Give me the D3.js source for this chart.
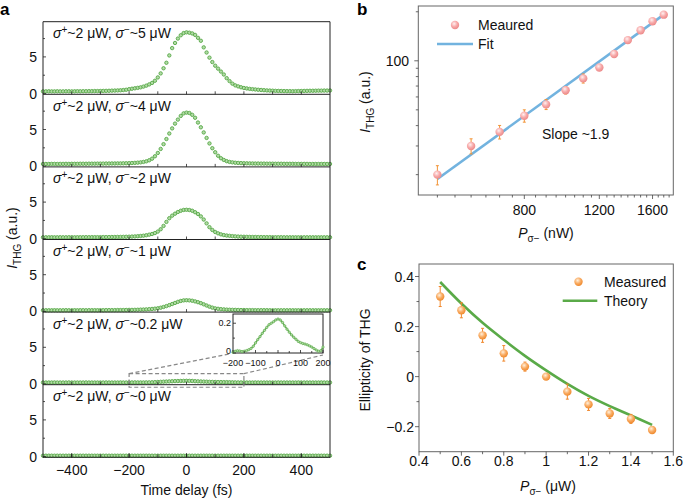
<!DOCTYPE html>
<html><head><meta charset="utf-8">
<script src="https://cdn.jsdelivr.net/npm/d3@7"></script>
<style>body{margin:0;background:#fff}svg{display:block;font-family:"Liberation Sans",Arial,Helvetica,sans-serif}</style>
</head><body><svg id="chart" width="685" height="500"></svg>
<script>
// ---------- Panel a data ----------
const delays = d3.range(-500, 501, 10);
const sigmaMinusLabels = ["5", "4", "2", "1", "0.2", "0"];
const thg5 = [0.3,0.3,0.31,0.3,0.3,0.31,0.3,0.3,0.31,0.31,0.3,0.31,0.32,0.31,0.32,0.32,0.33,0.33,0.34,0.34,
  0.35,0.36,0.37,0.38,0.4,0.41,0.43,0.45,0.48,0.52,
  0.6,0.66,0.72,0.78,0.85,0.95,1.08,1.25,1.45,1.75,
  2.2,2.75,3.45,4.2,5.2,6.2,6.9,7.5,7.95,8.25,
  8.35,
  8.3,8.2,8.0,7.6,7.2,6.3,5.6,4.9,4.3,3.8,
  3.4,3.0,2.6,2.1,1.7,1.35,1.12,0.98,0.86,0.76,
  0.7,0.64,0.6,0.56,0.52,0.49,0.46,0.43,0.41,0.39,
  0.37,0.36,0.35,0.34,0.33,0.33,0.32,0.33,0.34,0.35,
  0.36,0.37,0.38,0.38,0.39,0.4,0.4,0.41,0.41,0.42];
const thg4 = [0.3,0.3,0.3,0.31,0.31,0.3,0.31,0.31,0.32,0.31,0.32,0.32,0.32,0.33,0.33,0.33,0.34,0.34,0.34,0.35,
  0.35,0.35,0.36,0.36,0.37,0.37,0.38,0.38,0.39,0.4,
  0.41,0.43,0.45,0.48,0.52,0.58,0.66,0.8,1.02,1.35,
  1.8,2.35,3.0,3.7,4.45,5.15,5.8,6.35,6.85,7.2,
  7.3,
  7.25,7.0,6.6,5.95,5.3,4.6,3.85,3.1,2.45,1.9,
  1.42,1.08,0.85,0.68,0.58,0.52,0.47,0.44,0.42,0.4,
  0.39,0.38,0.37,0.36,0.36,0.35,0.35,0.34,0.34,0.34,
  0.33,0.33,0.33,0.32,0.32,0.32,0.32,0.31,0.31,0.31,
  0.31,0.31,0.3,0.3,0.3,0.3,0.3,0.3,0.3,0.3];
const thg2 = [0.2,0.2,0.2,0.21,0.2,0.2,0.21,0.2,0.2,0.21,0.21,0.2,0.21,0.21,0.21,0.22,0.21,0.22,0.22,0.22,
  0.22,0.23,0.23,0.23,0.24,0.24,0.25,0.25,0.26,0.27,
  0.28,0.3,0.32,0.35,0.38,0.42,0.48,0.56,0.65,0.78,
  0.98,1.3,1.75,2.3,2.8,3.15,3.42,3.65,3.82,3.93,
  3.95,
  3.92,3.82,3.62,3.38,3.05,2.62,2.1,1.58,1.2,0.92,
  0.74,0.6,0.5,0.44,0.4,0.36,0.33,0.3,0.28,0.27,
  0.26,0.25,0.24,0.24,0.23,0.23,0.22,0.22,0.22,0.21,
  0.21,0.21,0.21,0.2,0.2,0.2,0.2,0.2,0.2,0.2,
  0.2,0.2,0.2,0.2,0.2,0.2,0.2,0.2,0.2,0.2];
const thg1 = [0.15,0.15,0.15,0.15,0.16,0.15,0.15,0.15,0.16,0.15,0.15,0.16,0.15,0.16,0.16,0.15,0.16,0.16,0.16,0.16,
  0.16,0.16,0.17,0.17,0.17,0.17,0.18,0.18,0.18,0.19,
  0.2,0.2,0.21,0.22,0.24,0.25,0.27,0.3,0.33,0.37,
  0.42,0.5,0.6,0.72,0.85,1.0,1.15,1.3,1.42,1.5,
  1.52,
  1.5,1.45,1.36,1.25,1.12,0.96,0.8,0.64,0.51,0.41,
  0.35,0.3,0.27,0.24,0.22,0.21,0.2,0.19,0.18,0.18,
  0.17,0.17,0.17,0.16,0.16,0.16,0.16,0.16,0.15,0.15,
  0.15,0.15,0.15,0.15,0.15,0.15,0.15,0.15,0.15,0.15,
  0.15,0.15,0.15,0.15,0.15,0.15,0.15,0.15,0.15,0.15];
const thg02 = [0.2,0.2,0.2,0.2,0.21,0.2,0.2,0.2,0.2,0.21,0.2,0.2,0.2,0.2,0.2,0.21,0.2,0.2,0.2,0.2,
  0.2,0.2,0.21,0.2,0.2,0.2,0.2,0.21,0.2,0.2,
  0.21,0.21,0.22,0.21,0.21,0.21,0.22,0.22,0.23,0.25,
  0.27,0.29,0.31,0.33,0.35,0.37,0.39,0.4,0.41,0.42,
  0.43,
  0.42,0.41,0.38,0.36,0.34,0.32,0.31,0.29,0.28,0.27,
  0.26,0.26,0.25,0.25,0.24,0.23,0.22,0.21,0.21,0.22,
  0.2,0.2,0.2,0.21,0.2,0.2,0.2,0.2,0.2,0.2,
  0.2,0.21,0.2,0.2,0.2,0.2,0.2,0.2,0.21,0.2,
  0.2,0.2,0.2,0.2,0.2,0.2,0.21,0.2,0.2,0.2];
const thg0 = [0.12,0.12,0.12,0.12,0.12,0.12,0.12,0.12,0.12,0.12,0.12,0.12,0.12,0.12,0.12,0.12,0.12,0.12,0.12,0.12,
  0.12,0.12,0.12,0.12,0.12,0.12,0.12,0.12,0.12,0.12,
  0.12,0.12,0.12,0.12,0.12,0.12,0.12,0.12,0.12,0.12,
  0.12,0.12,0.12,0.12,0.12,0.12,0.12,0.12,0.12,0.12,
  0.12,
  0.12,0.12,0.12,0.12,0.12,0.12,0.12,0.12,0.12,0.12,
  0.12,0.12,0.12,0.12,0.12,0.12,0.12,0.12,0.12,0.12,
  0.12,0.12,0.12,0.12,0.12,0.12,0.12,0.12,0.12,0.12,
  0.12,0.12,0.12,0.12,0.12,0.12,0.12,0.12,0.12,0.12,
  0.12,0.12,0.12,0.12,0.12,0.12,0.12,0.12,0.12,0.12];
const insetDelays = d3.range(-200, 201, 10);
const insetValues = [0.005,0.012,0.016,0.014,0.01,0.012,0.016,0.022,0.03,0.045,0.068,0.09,0.11,0.132,0.152,0.172,0.19,0.2,0.21,0.222,
  0.228,0.222,0.205,0.182,0.16,0.14,0.122,0.106,0.092,0.078,0.07,0.064,0.06,0.055,0.048,0.04,0.03,0.02,0.012,0.015,0.04];
const aXTicks = [-400, -200, 0, 200, 400];
const aYTicks = [0, 5];

// ---------- Panel b data ----------
const bPower = [500,600,700,800,900,1000,1100,1200,1300,1400,1500,1600,1700];
const bIntensity = [20,30,36.6,46,54,66,78,91,110,134,154,175,192];
const bError = [2.7,3.2,3.5,4,3.8,3.5,5,3.6,4,4,4,4,3];
const fitPower = [500,1700];
const fitIntensity = [18.8,192];
const bXTicks = [800,1200,1600];
const bYTicks = [100];

// ---------- Panel c data ----------
const cPower = [0.5,0.6,0.7,0.8,0.9,1.0,1.1,1.2,1.3,1.4,1.5];
const cEllipticity = [0.32,0.265,0.165,0.093,0.04,0,-0.06,-0.111,-0.147,-0.169,-0.213];
const cError = [0.04,0.03,0.028,0.031,0.018,0.01,0.03,0.024,0.02,0.018,0.008];
const theoryPower = [0.5,0.6,0.7,0.8,0.9,1.0,1.1,1.2,1.3,1.4,1.5];
const theoryEllipticity = [0.378,0.292,0.215,0.147,0.083,0.025,-0.029,-0.077,-0.118,-0.155,-0.193];
const cXTicks = [0.4,0.6,0.8,1,1.2,1.4,1.6];
const cYTicks = [0.4,0.2,0,-0.2];

// ---------- drawing ----------
const svg = d3.select("#chart");
const FONT = 14;
const fmt = v => (v < 0 ? "\u2212" : "") + Math.abs(v);

const defs = svg.append("defs");
function sphere(id, c0, c1, c2) {
  const g = defs.append("radialGradient").attr("id", id).attr("cx","40%").attr("cy","35%").attr("r","65%");
  g.append("stop").attr("offset","0%").attr("stop-color",c0);
  g.append("stop").attr("offset","55%").attr("stop-color",c1);
  g.append("stop").attr("offset","100%").attr("stop-color",c2);
}
sphere("sb", "#fff0f0", "#f7a9a9", "#ec8a8a");
sphere("sc", "#fff0dc", "#f9ab62", "#ef8a2e");

function rich(g, x, y, parts, opt = {}) {
  const t = g.append("text").attr("x", x).attr("y", y).attr("font-size", FONT).attr("fill", "#111");
  if (opt.anchor) t.attr("text-anchor", opt.anchor);
  if (opt.rotate) t.attr("transform", `rotate(-90,${x},${y})`);
  parts.forEach(p => {
    const s = t.append("tspan").text(p.t);
    if (p.i) s.attr("font-style", "italic");
    if (p.dy) s.attr("dy", p.dy);
    if (p.fs) s.attr("font-size", p.fs);
  });
  return t;
}
function line(g, x1, y1, x2, y2, col = "#222", w = 1) {
  return g.append("line").attr("x1", x1).attr("y1", y1).attr("x2", x2).attr("y2", y2)
    .attr("stroke", col).attr("stroke-width", w);
}

// Panel a
const A = {left: 43, right: 330, top: 21.7, bottom: 457.3};
const ax = d3.scaleLinear().domain([-500, 500]).range([A.left, A.right]);
const series = [thg5, thg4, thg2, thg1, thg02, thg0];
const ph = (A.bottom - A.top) / series.length;
const ga = svg.append("g");
const panelScales = [];
series.forEach((s, k) => {
  const top = A.top + k * ph, bot = top + ph;
  const y = d3.scaleLinear().domain([-0.1, 9.8]).range([bot, top]);
  panelScales.push(y);
  const g = ga.append("g");
  g.selectAll("circle").data(delays).join("circle")
    .attr("cx", d => ax(d)).attr("cy", (d, i) => y(s[i])).attr("r", 1.7)
    .attr("fill", "#b2dba6").attr("stroke", "#57a847").attr("stroke-width", 0.9);
  line(g, A.left, bot, A.right, bot, "#222", 1);
  d3.range(-400, 401, 100).forEach(v => line(g, ax(v), bot, ax(v), bot - 3, "#222", 0.8));
  aYTicks.forEach(v => {
    line(g, A.left, y(v), A.left + 3, y(v), "#222", 0.8);
    g.append("text").attr("x", 37).attr("y", y(v) + 5).attr("text-anchor", "end")
      .attr("font-size", FONT).attr("fill", "#111").text(v);
  });
  [2.5, 7.5].forEach(v => line(g, A.left, y(v), A.left + 2, y(v), "#222", 0.8));
  rich(g, 53, top + 16.5, [
    {t: "\u03c3", i: true}, {t: "+", dy: -5, fs: 10}, {t: "~2 \u03bcW, ", dy: 5},
    {t: "\u03c3", i: true}, {t: "\u2212", dy: -5, fs: 10}, {t: "~" + sigmaMinusLabels[k] + " \u03bcW", dy: 5}
  ]);
});
line(ga, A.left, A.top, A.right, A.top, "#222", 1);
line(ga, A.left, A.top, A.left, A.bottom, "#222", 1);
line(ga, A.right, A.top, A.right, A.bottom, "#222", 1);
aXTicks.forEach(v => {
  line(ga, ax(v), A.bottom, ax(v), A.bottom - 4, "#222", 1);
  ga.append("text").attr("x", ax(v)).attr("y", 475).attr("text-anchor", "middle")
    .attr("font-size", FONT).attr("fill", "#111").text(fmt(v));
});
ga.append("text").attr("x", ax(0)).attr("y", 495).attr("text-anchor", "middle")
  .attr("font-size", FONT).attr("fill", "#111").text("Time delay (fs)");
rich(ga, 17, 238, [{t: "I", i: true}, {t: "THG", dy: 4, fs: 10}, {t: " (a.u.)", dy: -4}], {anchor: "middle", rotate: true});
ga.append("text").attr("x", 0).attr("y", 15).attr("font-size", 17).attr("font-weight", "bold").text("a");

// zoom box + inset (panel with sigma- ~0.2)
const y5 = panelScales[4];
const dash = "4,2.5";
ga.append("rect").attr("x", ax(-200)).attr("y", y5(1.4)).attr("width", ax(200) - ax(-200))
  .attr("height", y5(-0.45) - y5(1.4)).attr("fill", "none").attr("stroke", "#888")
  .attr("stroke-width", 1.2).attr("stroke-dasharray", dash);
const I = {left: 233, right: 323, top: 314, bottom: 353};
const ix = d3.scaleLinear().domain([-200, 200]).range([I.left, I.right]);
const iy = d3.scaleLinear().domain([0, 0.262]).range([I.bottom, I.top]);
line(ga, ax(-200), y5(1.4), I.left - 4, I.bottom + 1, "#888", 1.2).attr("stroke-dasharray", dash);
line(ga, ax(200), y5(1.4), I.right, I.bottom + 2, "#888", 1.2).attr("stroke-dasharray", dash);
const gi = ga.append("g");
gi.append("rect").attr("x", I.left).attr("y", I.top).attr("width", I.right - I.left)
  .attr("height", I.bottom - I.top).attr("fill", "#fff").attr("stroke", "#222").attr("stroke-width", 1);
gi.append("path").datum(insetValues)
  .attr("d", d3.line().x((d, i) => ix(insetDelays[i])).y(d => iy(d)))
  .attr("fill", "none").attr("stroke", "#57a847").attr("stroke-width", 1.4);
gi.selectAll("circle").data(insetValues).join("circle")
  .attr("cx", (d, i) => ix(insetDelays[i])).attr("cy", d => iy(d)).attr("r", 1.2)
  .attr("fill", "#b2dba6").attr("stroke", "#57a847").attr("stroke-width", 0.6);
d3.range(-200, 201, 50).forEach(v => line(gi, ix(v), I.bottom, ix(v), I.bottom - (v % 100 === 0 ? 3 : 2), "#222", 0.8));
[-200, -100, 0, 100, 200].forEach(v => gi.append("text").attr("x", ix(v)).attr("y", I.bottom + 13)
  .attr("text-anchor", "middle").attr("font-size", 9).attr("fill", "#111").text(fmt(v)));
[0, 0.2].forEach(v => {
  line(gi, I.left, iy(v), I.left + 3, iy(v), "#222", 0.8);
  gi.append("text").attr("x", I.left - 2).attr("y", iy(v) + (v === 0 ? 1 : 3)).attr("text-anchor", "end")
    .attr("font-size", 9).attr("fill", "#111").text(v);
});
line(gi, I.left, iy(0.1), I.left + 2, iy(0.1), "#222", 0.8);

// Panel b
const B = {left: 418.3, right: 673.3, top: 6, bottom: 195};
const bx = d3.scaleLog().domain([451, 1790]).range([B.left, B.right]);
const by = d3.scaleLog().domain([15, 217]).range([B.bottom, B.top]);
const gb = svg.append("g");
gb.append("rect").attr("x", B.left).attr("y", B.top).attr("width", B.right - B.left)
  .attr("height", B.bottom - B.top).attr("fill", "none").attr("stroke", "#666").attr("stroke-width", 1);
d3.range(500, 1751, 50).forEach(v => {
  const major = bXTicks.includes(v);
  line(gb, bx(v), B.bottom, bx(v), B.bottom + (major ? 4 : 2.5), "#444", 0.8);
});
bXTicks.forEach(v => gb.append("text").attr("x", bx(v)).attr("y", 215).attr("text-anchor", "middle")
  .attr("font-size", FONT).attr("fill", "#111").text(v));
[20,30,40,50,60,70,80,90,100,200].forEach(v => {
  const major = bYTicks.includes(v);
  line(gb, B.left, by(v), B.left - (major ? 4 : 2.5), by(v), "#444", 0.8);
});
bYTicks.forEach(v => gb.append("text").attr("x", 409).attr("y", by(v) + 5).attr("text-anchor", "end")
  .attr("font-size", FONT).attr("fill", "#111").text(v));
gb.append("path").datum(fitIntensity)
  .attr("d", d3.line().x((d, i) => bx(fitPower[i])).y(d => by(d)))
  .attr("stroke", "#72b3df").attr("stroke-width", 2.6).attr("fill", "none");
bPower.forEach((p, i) => {
  const lo = by(bIntensity[i] - bError[i]), hi = by(bIntensity[i] + bError[i]);
  line(gb, bx(p), lo, bx(p), hi, "#f29437", 1);
  line(gb, bx(p) - 1.5, lo, bx(p) + 1.5, lo, "#f29437", 1);
  line(gb, bx(p) - 1.5, hi, bx(p) + 1.5, hi, "#f29437", 1);
});
gb.selectAll("circle.m").data(bIntensity).join("circle").attr("class", "m")
  .attr("cx", (d, i) => bx(bPower[i])).attr("cy", d => by(d)).attr("r", 4.2).attr("fill", "url(#sb)");
gb.append("circle").attr("cx", 455).attr("cy", 25).attr("r", 4.2).attr("fill", "url(#sb)");
gb.append("text").attr("x", 478).attr("y", 30).attr("font-size", FONT).attr("fill", "#111").text("Meaured");
line(gb, 437, 44, 473, 44, "#72b3df", 2.6);
gb.append("text").attr("x", 478).attr("y", 49).attr("font-size", FONT).attr("fill", "#111").text("Fit");
gb.append("text").attr("x", 542).attr("y", 139).attr("font-size", FONT).attr("fill", "#111").text("Slope ~1.9");
rich(gb, 370, 102, [{t: "I", i: true}, {t: "THG", dy: 4, fs: 10}, {t: " (a.u.)", dy: -4}], {anchor: "middle", rotate: true});
rich(gb, 546, 238, [{t: "P", i: true}, {t: "\u03c3\u2212", dy: 4, fs: 10}, {t: " (nW)", dy: -4}], {anchor: "middle"});
gb.append("text").attr("x", 357).attr("y", 15).attr("font-size", 17).attr("font-weight", "bold").text("b");

// Panel c
const C = {left: 419, right: 673.3, top: 264, bottom: 451.7};
const cx = d3.scaleLinear().domain([0.4, 1.6]).range([C.left, C.right]);
const cy = d3.scaleLinear().domain([-0.3, 0.45]).range([C.bottom, C.top]);
const gc = svg.append("g");
gc.append("rect").attr("x", C.left).attr("y", C.top).attr("width", C.right - C.left)
  .attr("height", C.bottom - C.top).attr("fill", "none").attr("stroke", "#666").attr("stroke-width", 1);
d3.range(4, 17, 1).forEach(k => {
  const v = k / 10, major = k % 2 === 0;
  line(gc, cx(v), C.bottom, cx(v), C.bottom + (major ? 4 : 2.5), "#444", 0.8);
});
cXTicks.forEach(v => gc.append("text").attr("x", cx(v)).attr("y", 466).attr("text-anchor", "middle")
  .attr("font-size", FONT).attr("fill", "#111").text(v));
d3.range(-2, 5, 1).forEach(k => {
  const v = k / 10, major = k % 2 === 0;
  line(gc, C.left, cy(v), C.left - (major ? 4 : 2.5), cy(v), "#444", 0.8);
});
cYTicks.forEach(v => gc.append("text").attr("x", 414).attr("y", cy(v) + 5).attr("text-anchor", "end")
  .attr("font-size", FONT).attr("fill", "#111").text(fmt(v)));
gc.append("path").datum(theoryEllipticity)
  .attr("d", d3.line().curve(d3.curveCatmullRom).x((d, i) => cx(theoryPower[i])).y(d => cy(d)))
  .attr("stroke", "#5aaa48").attr("stroke-width", 2.6).attr("fill", "none");
cPower.forEach((p, i) => {
  const lo = cy(cEllipticity[i] - cError[i]), hi = cy(cEllipticity[i] + cError[i]);
  line(gc, cx(p), lo, cx(p), hi, "#f0872a", 1);
  line(gc, cx(p) - 1.5, lo, cx(p) + 1.5, lo, "#f0872a", 1);
  line(gc, cx(p) - 1.5, hi, cx(p) + 1.5, hi, "#f0872a", 1);
});
gc.selectAll("circle.m").data(cEllipticity).join("circle").attr("class", "m")
  .attr("cx", (d, i) => cx(cPower[i])).attr("cy", d => cy(d)).attr("r", 4.2).attr("fill", "url(#sc)");
gc.append("circle").attr("cx", 578.5).attr("cy", 281.7).attr("r", 4.2).attr("fill", "url(#sc)");
gc.append("text").attr("x", 604).attr("y", 287).attr("font-size", FONT).attr("fill", "#111").text("Measured");
line(gc, 562.7, 300.7, 597.3, 300.7, "#5aaa48", 2.6);
gc.append("text").attr("x", 604).attr("y", 306).attr("font-size", FONT).attr("fill", "#111").text("Theory");
gc.append("text").attr("x", 370).attr("y", 360).attr("text-anchor", "middle").attr("font-size", FONT)
  .attr("fill", "#111").attr("transform", "rotate(-90,370,360)").text("Ellipticity of THG");
rich(gc, 548, 491, [{t: "P", i: true}, {t: "\u03c3\u2212", dy: 4, fs: 10}, {t: " (\u03bcW)", dy: -4}], {anchor: "middle"});
gc.append("text").attr("x", 357).attr("y", 270).attr("font-size", 17).attr("font-weight", "bold").text("c");
</script></body></html>
